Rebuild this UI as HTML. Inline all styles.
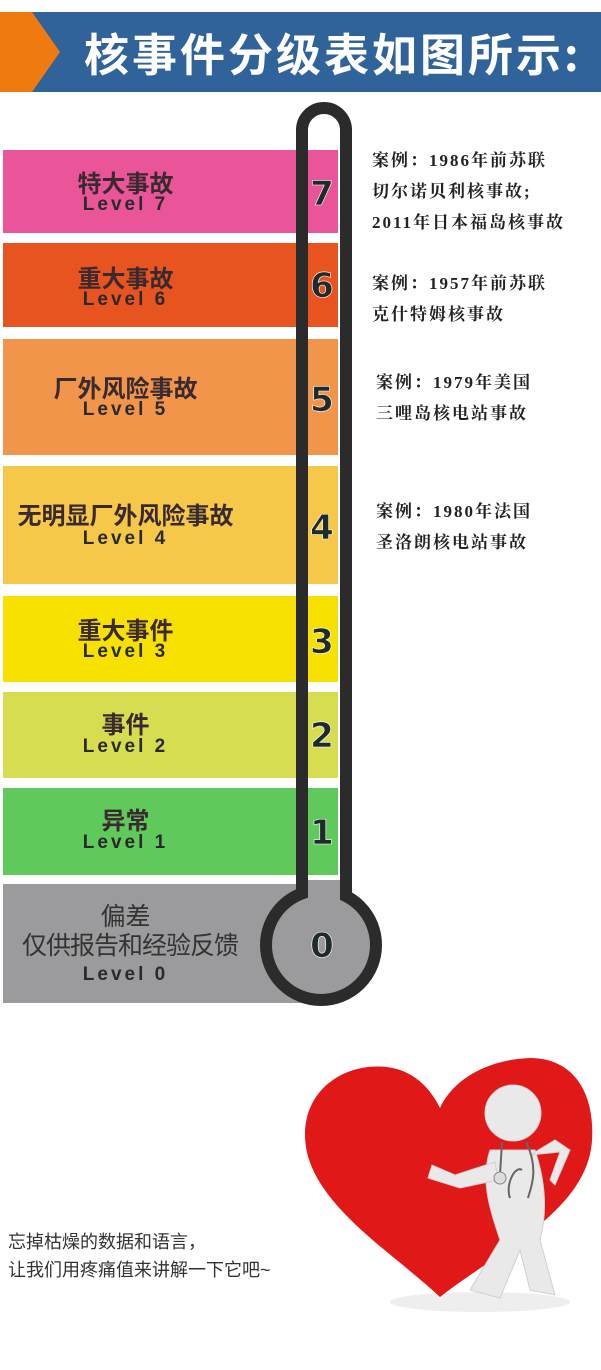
<!DOCTYPE html>
<html><head><meta charset="utf-8"><style>
body{margin:0;width:601px;height:1370px;background:#fff;position:relative;overflow:hidden;font-family:"Liberation Sans","Noto Sans CJK SC",sans-serif}
.a{position:absolute}
.band{position:absolute;left:3px;width:335px}
.lab{position:absolute;left:3px;width:245px;text-align:center;color:#3a2a30;font-weight:bold;font-size:24px;line-height:24px}
.lv{position:absolute;left:3px;width:245px;text-align:center;color:#2a2a2a;font-weight:bold;font-size:19px;letter-spacing:3px;line-height:18px}
.num{position:absolute;left:302px;width:40px;text-align:center;font-weight:bold;font-size:34px;color:#1f2b2b;-webkit-text-stroke:0.6px #fff;line-height:34px;font-family:"DejaVu Sans",sans-serif}
.case{position:absolute;left:372px;font-family:"Liberation Serif","Noto Serif CJK SC",serif;font-size:17px;color:#222;line-height:31px;font-weight:bold;letter-spacing:2px}
</style></head><body>
<div class="a" style="left:0;top:12px;width:601px;height:80px;background:#2f6399"></div>
<svg class="a" style="left:0;top:12px" width="70" height="80"><polygon points="0,0 32,0 60,40 32,80 0,80" fill="#ee7a10"/></svg>
<div class="a" style="left:84px;top:14px;color:#fff;font-weight:bold;font-size:45px;line-height:76px;letter-spacing:3px;white-space:nowrap;font-family:'Noto Sans CJK SC',sans-serif">核事件分级表如图所示:</div>

<div class="band" style="top:150px;height:83px;background:#ea559a"></div>
<div class="band" style="top:243px;height:84px;background:#e8541f"></div>
<div class="band" style="top:339px;height:116px;background:#f0954a"></div>
<div class="band" style="top:466px;height:118px;background:#f6c84a"></div>
<div class="band" style="top:596px;height:86px;background:#f6e100"></div>
<div class="band" style="top:692px;height:86px;background:#d6dd50"></div>
<div class="band" style="top:788px;height:87px;background:#5fc95c"></div>
<div class="band" style="top:884px;height:119px;width:300px;background:#9b9a9c"></div>

<svg class="a" style="left:0;top:0" width="601" height="1030">
<path d="M302,920 L302,130 A22,22 0 0 1 346,130 L346,920" fill="none" stroke="#2b2b2b" stroke-width="12"/>
<circle cx="321" cy="945" r="55" fill="#9b9a9c" stroke="#2b2b2b" stroke-width="12"/>
<rect x="308" y="880" width="32" height="30" fill="#9b9a9c"/>
</svg>

<div class="lab" style="top:173px">特大事故</div><div class="lv" style="top:196px">Level 7</div>
<div class="lab" style="top:268px">重大事故</div><div class="lv" style="top:291px">Level 6</div>
<div class="lab" style="top:378px">厂外风险事故</div><div class="lv" style="top:401px">Level 5</div>
<div class="lab" style="top:505px">无明显厂外风险事故</div><div class="lv" style="top:530px">Level 4</div>
<div class="lab" style="top:620px">重大事件</div><div class="lv" style="top:643px">Level 3</div>
<div class="lab" style="top:714px">事件</div><div class="lv" style="top:738px">Level 2</div>
<div class="lab" style="top:810px">异常</div><div class="lv" style="top:834px">Level 1</div>
<div class="lab" style="top:905px;font-weight:normal;color:#333;font-size:25px">偏差</div>
<div class="lab" style="top:934px;left:5px;width:250px;font-weight:normal;color:#333;font-size:25px;letter-spacing:-1px">仅供报告和经验反馈</div>
<div class="lv" style="top:966px">Level 0</div>

<div class="num" style="top:177px">7</div>
<div class="num" style="top:269px">6</div>
<div class="num" style="top:383px">5</div>
<div class="num" style="top:511px">4</div>
<div class="num" style="top:625px">3</div>
<div class="num" style="top:719px">2</div>
<div class="num" style="top:816px">1</div>
<div class="num" style="top:929px">0</div>

<div class="case" style="top:145px">案例：1986年前苏联<br>切尔诺贝利核事故;<br>2011年日本福岛核事故</div>
<div class="case" style="top:268px">案例：1957年前苏联<br>克什特姆核事故</div>
<div class="case" style="top:367px;left:376px">案例：1979年美国<br>三哩岛核电站事故</div>
<div class="case" style="top:496px;left:376px">案例：1980年法国<br>圣洛朗核电站事故</div>

<svg class="a" style="left:0;top:1040px" width="601" height="330">
<ellipse cx="480" cy="262" rx="90" ry="10" fill="#eee"/>
<path d="M440,257 C390,210 305,160 305,95 C305,40 360,17 400,30 C420,37 432,52 440,68 C450,45 480,20 530,18 C575,18 595,55 592,100 C588,170 500,210 440,257 Z" fill="#e01818"/>
<g fill="#e9e9e9" stroke="#d0d0d0" stroke-width="1">
<circle cx="513" cy="73" r="28"/>
<path d="M490,110 C480,140 490,170 500,200 L470,250 L500,258 L520,210 L530,250 L555,255 L540,200 C548,170 545,140 535,110 Z"/>
<path d="M495,122 L455,135 L432,125 L428,138 L460,148 L498,140 Z"/>
<path d="M530,115 L560,112 L550,140 L555,145 L570,110 L555,100 Z"/>
</g>
<path d="M502,102 L500,135 M526,102 C540,130 530,150 528,158 M510,158 C505,145 515,125 522,130" fill="none" stroke="#666" stroke-width="2"/>
<circle cx="500" cy="138" r="6" fill="#ddd" stroke="#888"/>
</svg>

<div class="a" style="left:8px;top:1228px;font-size:18px;color:#333;line-height:28px">忘掉枯燥的数据和语言，<br>让我们用疼痛值来讲解一下它吧~</div>
</body></html>
